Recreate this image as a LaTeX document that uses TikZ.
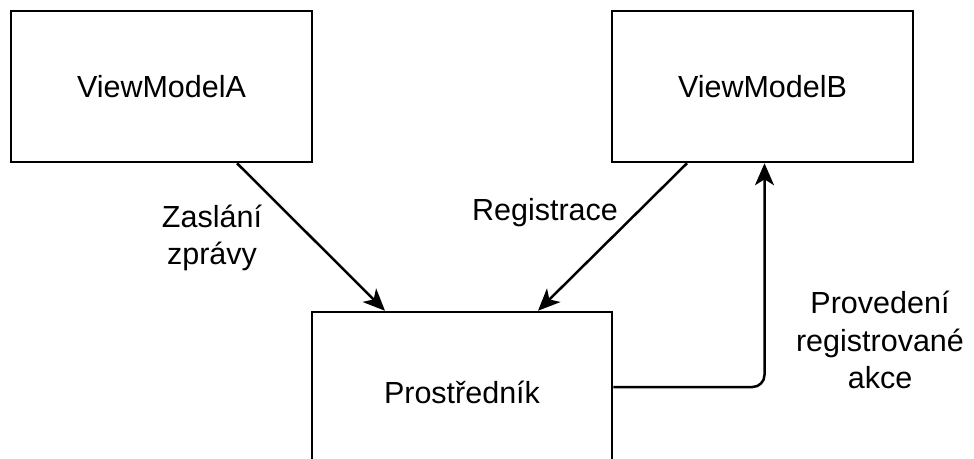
\documentclass[tikz,border=0pt]{standalone}
\usepackage{fontspec}
\setmainfont{Liberation Sans}
\usetikzlibrary{arrows.meta}
\begin{document}
\begin{tikzpicture}[x=1pt,y=-1pt,
  box/.style={draw=black,line width=2.5pt,fill=white,minimum width=301pt,minimum height=151pt,inner sep=0pt,font=\fontsize{30.5}{37.5}\selectfont},
  lbl/.style={align=center,inner sep=0pt,font=\fontsize{30.5}{37.5}\selectfont},
  arr/.style={draw=black,line width=2.5pt,-{Stealth[length=22pt,width=19pt,inset=6pt]}}]
\useasboundingbox (0,0) rectangle (974,458);
\node[box] (A) at (161.5,86.5) {ViewModelA};
\node[box] (B) at (762.5,86.5) {ViewModelB};
\node[box,minimum width=300pt,minimum height=160pt] (P) at (462,392) {Prostředník};
\draw[arr] ([xshift=75.5pt]A.south) -- ([xshift=-77pt]P.north);
\draw[arr] ([xshift=-75.5pt]B.south) -- ([xshift=76pt]P.north);
\draw[arr,rounded corners=12pt] ([yshift=5pt]P.east) -| ([xshift=2pt]B.south);
\node[lbl] (l1) at (212,238) {Zaslání\\zprávy};
\node[lbl] (l2) at (545,213) {Registrace};
\node[lbl] (l3) at (880,340) {Provedení\\registrované\\akce};
\end{tikzpicture}
\end{document}
